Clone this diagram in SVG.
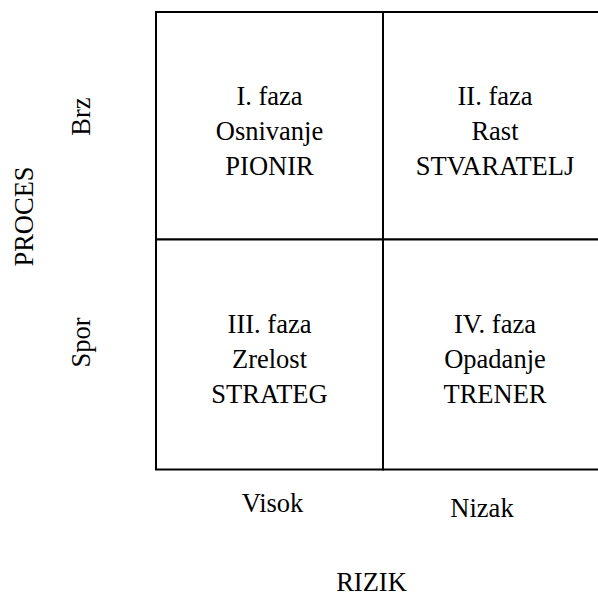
<svg xmlns="http://www.w3.org/2000/svg" width="598" height="597" viewBox="0 0 598 597">
  <style>
    .t { font-family: "Liberation Serif", "Times New Roman", serif; font-size: 26.5px; fill: #000; text-anchor: middle; }
    .cell { fill: #fff; stroke: #000; stroke-width: 2; }
  </style>
  <rect width="598" height="597" fill="#fff"/>

  <!-- Quadrants of the phase matrix -->
  <g id="phase-1">
    <rect class="cell" x="156" y="12" width="227" height="227.5"/>
    <text class="t" x="269.5" y="104.5">I. faza</text>
    <text class="t" x="269.5" y="139.5">Osnivanje</text>
    <text class="t" x="269.5" y="174.5">PIONIR</text>
  </g>
  <g id="phase-2">
    <rect class="cell" x="383" y="12" width="227" height="227.5"/>
    <text class="t" x="495" y="104.5">II. faza</text>
    <text class="t" x="495" y="139.5">Rast</text>
    <text class="t" x="495" y="174.5">STVARATELJ</text>
  </g>
  <g id="phase-3">
    <rect class="cell" x="156" y="239.5" width="227" height="230"/>
    <text class="t" x="269.5" y="332.5">III. faza</text>
    <text class="t" x="269.5" y="367.5">Zrelost</text>
    <text class="t" x="269.5" y="402.5">STRATEG</text>
  </g>
  <g id="phase-4">
    <rect class="cell" x="383" y="239.5" width="227" height="230"/>
    <text class="t" x="495" y="332.5">IV. faza</text>
    <text class="t" x="495" y="367.5">Opadanje</text>
    <text class="t" x="495" y="402.5">TRENER</text>
  </g>

  <!-- Axis labels -->
  <g id="axis-process">
    <text class="t" transform="translate(33 216.5) rotate(-90)">PROCES</text>
    <text class="t" transform="translate(90 116.5) rotate(-90)">Brz</text>
    <text class="t" transform="translate(90 342.5) rotate(-90)">Spor</text>
  </g>
  <g id="axis-risk">
    <text class="t" x="272.5" y="511.5">Visok</text>
    <text class="t" x="482" y="516.5">Nizak</text>
    <text class="t" x="371.5" y="590.5">RIZIK</text>
  </g>

  <g id="connectors"/>
</svg>
